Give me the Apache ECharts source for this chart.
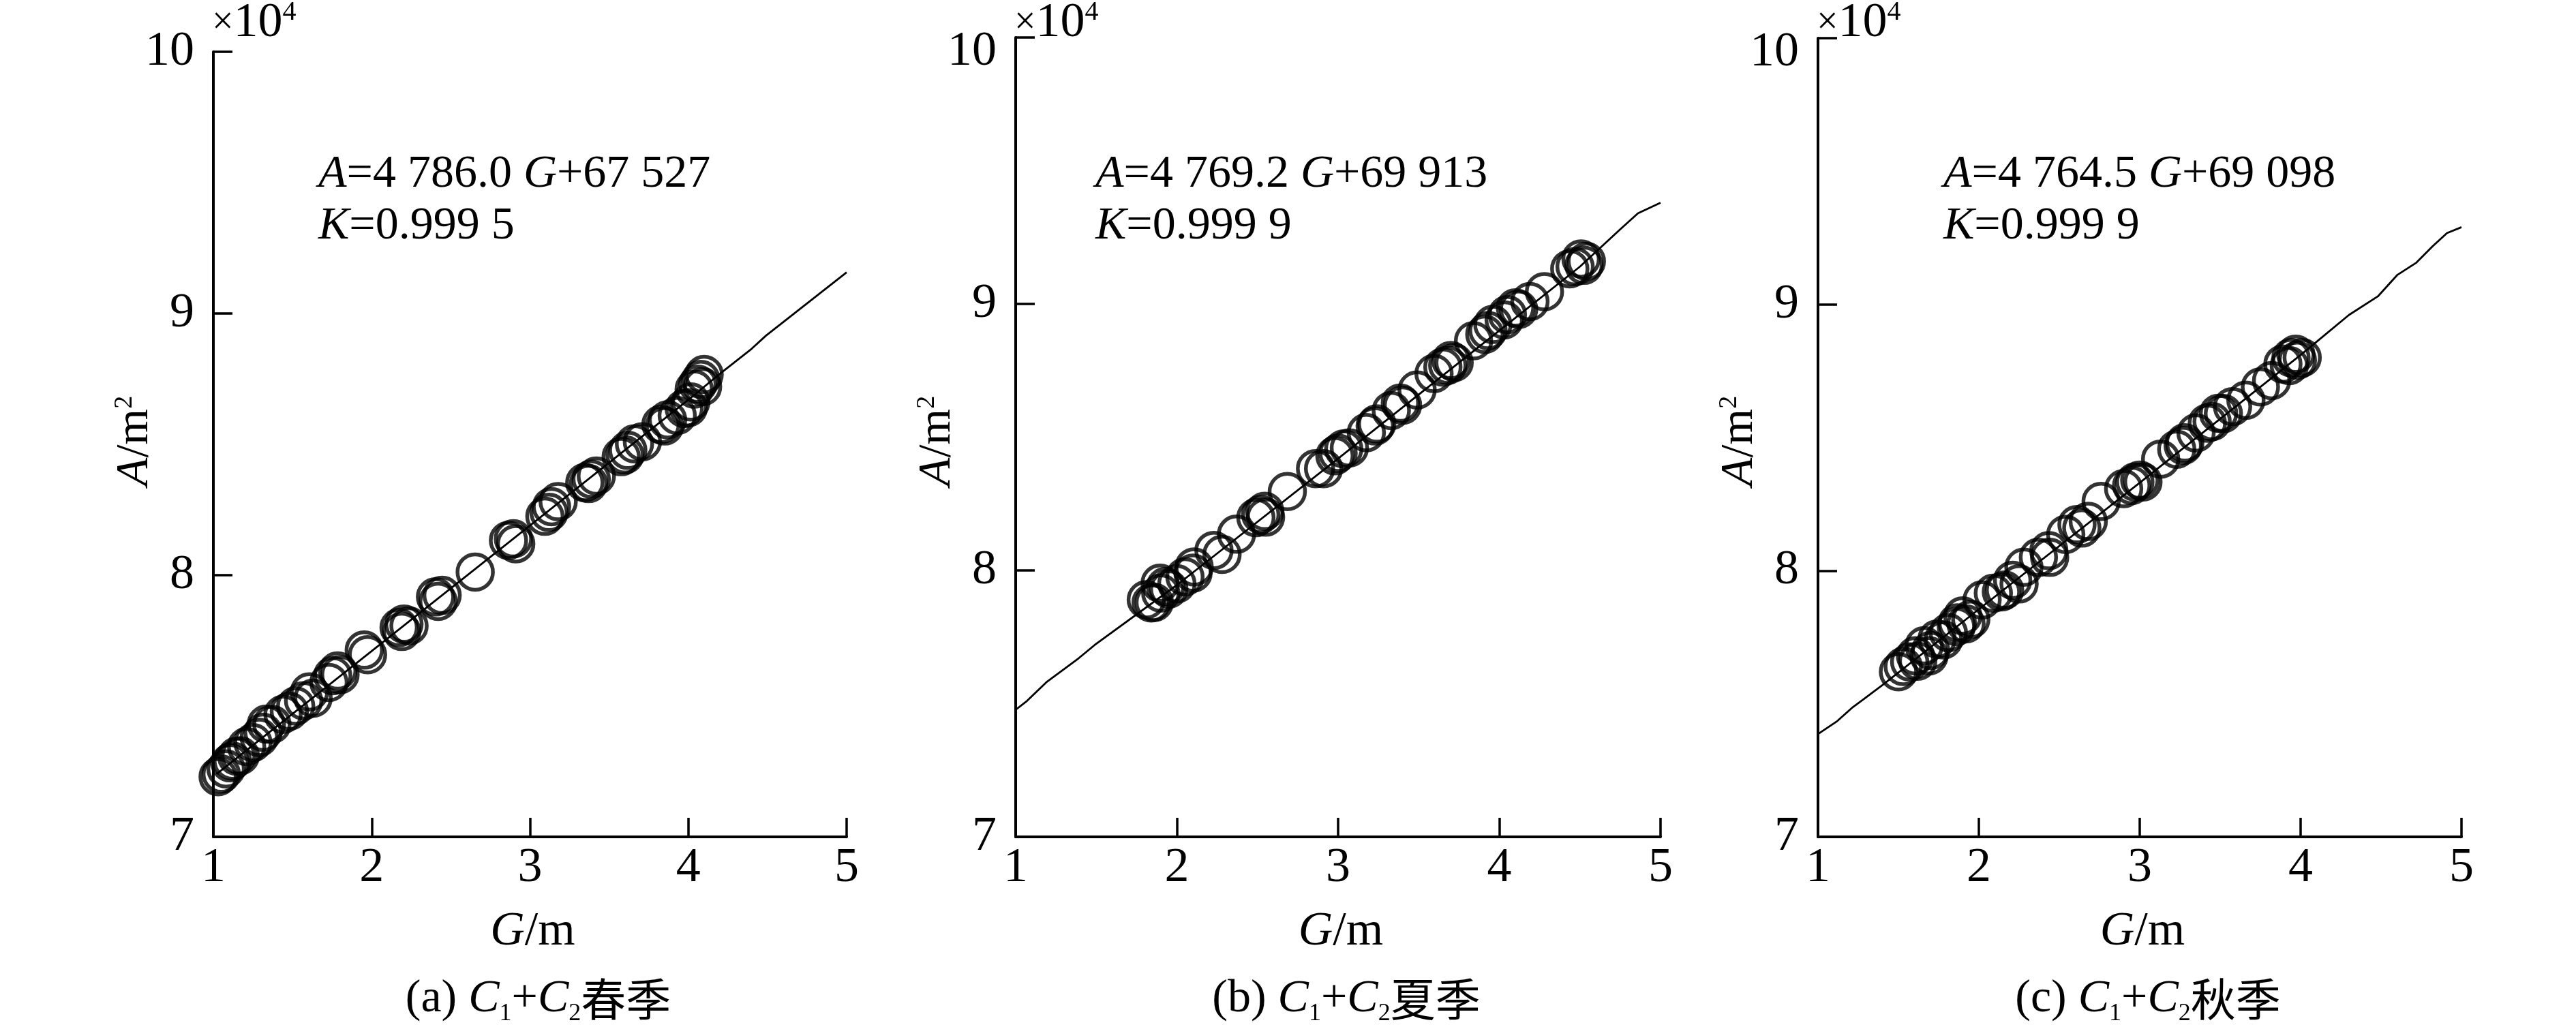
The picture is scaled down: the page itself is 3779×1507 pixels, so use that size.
<!DOCTYPE html>
<html><head><meta charset="utf-8">
<script src="https://cdn.jsdelivr.net/npm/echarts@6/dist/echarts.min.js"></script>
<style>html,body{margin:0;padding:0;background:#fff}#c{width:3779px;height:1507px}</style>
</head><body><div id="c"></div>
<script>
// ---- data ----
const xTicks = [1, 2, 3, 4, 5];
const yTicks = [7, 8, 9, 10];           // ×10^4 m²
const captions = ['(a) ', '(b) ', '(c) '];
const seasons = ['春季', '夏季', '秋季'];
const eqCoef = ['4 786.0', '4 769.2', '4 764.5'];
const eqConst = ['67 527', '69 913', '69 098'];
const eqK = ['0.999 5', '0.999 9', '0.999 9'];

// (a) spring
const springG = [1.03,1.05,1.08,1.105,1.12,1.147,1.17,1.21,1.25,1.29,1.314,1.335,1.37,1.44,1.48,1.52,1.57,1.607,1.63,1.73,1.754,1.785,1.80,1.953,1.974,2.173,2.19,2.204,2.236,2.403,2.42,2.445,2.654,2.864,2.895,2.91,3.094,3.12,3.136,3.178,3.346,3.37,3.387,3.419,3.576,3.60,3.618,3.66,3.71,3.827,3.85,3.869,3.93,3.974,4.0,4.016,4.037,4.06,4.079,4.09,4.10];
const springA = [7.230,7.240,7.260,7.283,7.290,7.308,7.310,7.345,7.360,7.380,7.400,7.431,7.430,7.468,7.480,7.500,7.520,7.554,7.530,7.590,7.616,7.634,7.620,7.714,7.696,7.800,7.785,7.813,7.806,7.917,7.900,7.923,8.012,8.133,8.139,8.120,8.225,8.240,8.262,8.281,8.354,8.350,8.367,8.379,8.453,8.460,8.477,8.502,8.510,8.576,8.570,8.594,8.610,8.637,8.640,8.662,8.711,8.730,8.748,8.720,8.767];
const springLineG = [1.02,2.0,3.0,4.0,4.2,4.4,4.49,5.0];
const springLineA = [7.24,7.71,8.19,8.67,8.77,8.865,8.915,9.157];

// (b) summer
const summerG = [1.81,1.84,1.86,1.90,1.93,1.896,1.95,2.00,2.05,2.10,2.107,2.23,2.28,2.37,2.49,2.52,2.545,2.55,2.685,2.86,2.91,2.98,3.00,3.035,3.07,3.175,3.23,3.24,3.33,3.386,3.40,3.49,3.595,3.65,3.68,3.70,3.72,3.84,3.91,3.93,3.96,4.03,4.05,4.10,4.12,4.19,4.28,4.437,4.47,4.507,4.525,4.54];
const summerA = [7.890,7.878,7.880,7.915,7.940,7.952,7.930,7.950,7.976,7.990,8.013,8.075,8.060,8.136,8.198,8.210,8.222,8.200,8.296,8.382,8.382,8.430,8.440,8.456,8.460,8.517,8.542,8.550,8.600,8.628,8.620,8.677,8.739,8.763,8.770,8.788,8.780,8.862,8.886,8.900,8.923,8.940,8.960,8.985,8.980,9.009,9.046,9.132,9.140,9.169,9.145,9.160];
const summerLineG = [1.0,1.07,1.19,1.39,1.49,2.0,3.0,4.0,4.5,4.75,4.86,5.0];
const summerLineA = [7.477,7.51,7.58,7.67,7.72,7.945,8.42,8.90,9.14,9.28,9.34,9.38];

// (c) autumn
const autumnG = [1.50,1.53,1.57,1.606,1.62,1.66,1.69,1.70,1.74,1.78,1.81,1.86,1.866,1.90,1.92,1.95,2.02,2.09,2.14,2.16,2.21,2.25,2.28,2.37,2.435,2.44,2.54,2.61,2.64,2.68,2.76,2.90,2.95,2.97,3.00,3.02,3.13,3.23,3.27,3.28,3.35,3.42,3.45,3.49,3.52,3.577,3.66,3.75,3.82,3.89,3.93,3.94,3.97,3.98,4.01];
const autumnA = [7.620,7.640,7.657,7.680,7.660,7.718,7.680,7.700,7.743,7.740,7.767,7.790,7.804,7.830,7.800,7.817,7.890,7.915,7.920,7.927,7.964,7.950,8.013,8.050,8.075,8.050,8.136,8.173,8.160,8.185,8.260,8.308,8.320,8.333,8.340,8.333,8.419,8.456,8.470,8.480,8.517,8.554,8.560,8.591,8.590,8.616,8.640,8.690,8.714,8.776,8.770,8.800,8.813,8.790,8.800];
const autumnLineG = [1.0,1.12,1.21,1.29,1.40,2.0,3.0,4.0,4.10,4.30,4.48,4.60,4.72,4.82,4.91,5.0];
const autumnLineA = [7.386,7.435,7.484,7.52,7.57,7.855,8.33,8.81,8.86,8.96,9.03,9.11,9.157,9.218,9.268,9.29];

const scatterG = [springG, summerG, autumnG];
const scatterA = [springA, summerA, autumnA];
const lineG = [springLineG, summerLineG, autumnLineG];
const lineA = [springLineA, summerLineA, autumnLineA];

// ---- layout ----
const SERIF = '"Liberation Serif","Times New Roman",serif';
const CJK = '"Noto Sans CJK SC",sans-serif';
const grids = [
  {left: 313, top: 76, width: 929, height: 1152},
  {left: 1490, top: 55, width: 946, height: 1173},
  {left: 2667, top: 56, width: 944, height: 1172}
];
const zip = (a, b) => a.map((v, i) => [v, b[i]]);

const xAxes = [], yAxes = [], series = [], graphics = [];
grids.forEach((g, i) => {
  xAxes.push({
    type: 'value', gridIndex: i, min: xTicks[0], max: xTicks[xTicks.length - 1], interval: 1,
    axisLine: {lineStyle: {color: '#000', width: 4}},
    axisTick: {inside: true, length: 28, lineStyle: {color: '#000', width: 3.5}},
    axisLabel: {color: '#000', fontFamily: SERIF, fontSize: 72, margin: 10},
    splitLine: {show: false}
  });
  yAxes.push({
    type: 'value', gridIndex: i, min: yTicks[0], max: yTicks[yTicks.length - 1], interval: 1,
    axisLine: {lineStyle: {color: '#000', width: 4}},
    axisTick: {inside: true, length: 28, lineStyle: {color: '#000', width: 3.5}},
    axisLabel: {
      color: '#000', fontFamily: SERIF, fontSize: 72, margin: 28,
      formatter: v => (v === yTicks[yTicks.length - 1] && i > 0) ? '{t|' + v + '}' : '{n|' + v + '}',
      rich: {
        t: {fontFamily: SERIF, fontSize: 72, color: '#000', padding: [42, 0, 0, 0]},
        n: {fontFamily: SERIF, fontSize: 72, color: '#000'}
      }
    },
    splitLine: {show: false}
  });
  series.push({
    type: 'line', xAxisIndex: i, yAxisIndex: i, data: zip(lineG[i], lineA[i]),
    showSymbol: false, symbol: 'none', smooth: false,
    lineStyle: {color: '#000', width: 2.8}, z: 2, silent: true
  });
  series.push({
    type: 'scatter', xAxisIndex: i, yAxisIndex: i, data: zip(scatterG[i], scatterA[i]),
    symbol: 'circle', symbolSize: 52,
    itemStyle: {color: 'rgba(0,0,0,0)', borderColor: '#000', borderWidth: 5.5},
    z: 3, silent: true
  });

  const L = g.left, R = g.left + g.width, cx = (L + R) / 2;
  // ×10^4
  graphics.push({
    type: 'text', x: L - 2, y: 34,
    style: {
      text: '{x|×}{n|10}{s|4}', align: 'left', verticalAlign: 'middle',
      rich: {
        x: {fontFamily: SERIF, fontSize: 56, fill: '#000', verticalAlign: 'middle'},
        n: {fontFamily: SERIF, fontSize: 72, fill: '#000', verticalAlign: 'middle'},
        s: {fontFamily: SERIF, fontSize: 40, fill: '#000', verticalAlign: 'top'}
      }
    }
  });
  // equation lines
  const eqX = [467, 1607, 2851][i];
  graphics.push({
    type: 'text', x: eqX, y: 256,
    style: {
      text: '{i|A}{n|=' + eqCoef[i] + ' }{i|G}{n|+' + eqConst[i] + '}', align: 'left', verticalAlign: 'middle',
      rich: {
        i: {fontFamily: SERIF, fontSize: 68, fontStyle: 'italic', fill: '#000'},
        n: {fontFamily: SERIF, fontSize: 68, fill: '#000'}
      }
    }
  });
  graphics.push({
    type: 'text', x: eqX, y: 332,
    style: {
      text: '{i|K}{n|=' + eqK[i] + '}', align: 'left', verticalAlign: 'middle',
      rich: {
        i: {fontFamily: SERIF, fontSize: 68, fontStyle: 'italic', fill: '#000'},
        n: {fontFamily: SERIF, fontSize: 68, fill: '#000'}
      }
    }
  });
  // y-axis name (rotated)
  graphics.push({
    type: 'text', x: L - 115, y: 647, rotation: Math.PI / 2,
    style: {
      text: '{i|A}{n|/m}{s|2}', align: 'center', verticalAlign: 'middle',
      rich: {
        i: {fontFamily: SERIF, fontSize: 68, fontStyle: 'italic', fill: '#000', verticalAlign: 'middle'},
        n: {fontFamily: SERIF, fontSize: 68, fill: '#000', verticalAlign: 'middle'},
        s: {fontFamily: SERIF, fontSize: 38, fill: '#000', verticalAlign: 'top'}
      }
    }
  });
  // x-axis name
  graphics.push({
    type: 'text', x: cx + 4, y: 1368,
    style: {
      text: '{i|G}{n|/m}', align: 'center', verticalAlign: 'middle',
      rich: {
        i: {fontFamily: SERIF, fontSize: 70, fontStyle: 'italic', fill: '#000'},
        n: {fontFamily: SERIF, fontSize: 70, fill: '#000'}
      }
    }
  });
  // caption
  graphics.push({
    type: 'text', x: cx + 12, y: 1466,
    style: {
      text: '{n|' + captions[i] + '}{i|C}{b|1}{n|+}{i|C}{b|2}{z|' + seasons[i] + '}', align: 'center', verticalAlign: 'middle',
      rich: {
        n: {fontFamily: SERIF, fontSize: 68, fill: '#000', verticalAlign: 'middle'},
        i: {fontFamily: SERIF, fontSize: 68, fontStyle: 'italic', fill: '#000', verticalAlign: 'middle'},
        b: {fontFamily: SERIF, fontSize: 36, fill: '#000', verticalAlign: 'bottom', padding: [0, 0, -6, 0]},
        z: {fontFamily: CJK, fontSize: 66, fill: '#000', verticalAlign: 'middle'}
      }
    }
  });
});

const chart = echarts.init(document.getElementById('c'), null, {renderer: 'canvas', width: 3779, height: 1507});
chart.setOption({
  backgroundColor: '#fff',
  animation: false,
  grid: grids.map(g => Object.assign({containLabel: false}, g)),
  xAxis: xAxes,
  yAxis: yAxes,
  series: series,
  graphic: graphics
});
</script>
</body></html>
